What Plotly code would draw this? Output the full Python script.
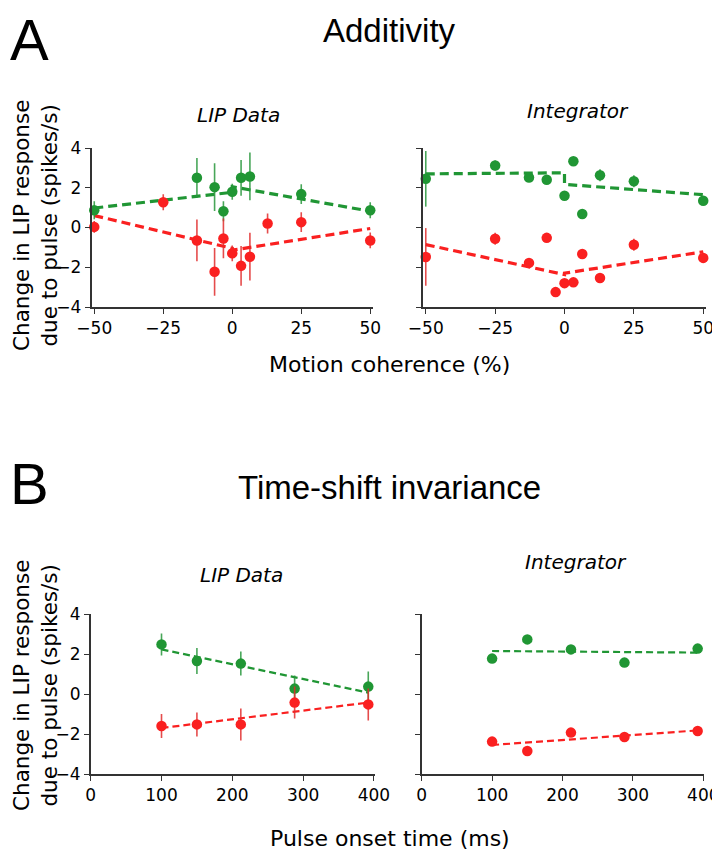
import plotly.graph_objects as go

# page is 720x853; the browser adds an 8px body margin, so the figure is 712x845
PAGE_W, PAGE_H = 720, 853
OFF = 8
W, H = PAGE_W - OFF, PAGE_H - OFF

# ---------------- Data ----------------
# Panel A: Additivity (motion coherence %)
coh_lip_green = [-50, -12.8, -6.4, -3.2, 0, 3.2, 6.4, 25, 50]
lip_green = [0.87, 2.5, 2.03, 0.82, 1.8, 2.5, 2.57, 1.68, 0.87]
lip_green_err = [0.45, 1.0, 1.2, 0.5, 0.4, 0.9, 1.2, 0.5, 0.4]

coh_lip_red = [-50, -25, -12.8, -6.4, -3.2, 0, 3.2, 6.4, 12.8, 25, 50]
lip_red = [0.03, 1.27, -0.65, -2.23, -0.55, -1.3, -1.93, -1.47, 0.2, 0.27, -0.65]
lip_red_err = [0.3, 0.4, 1.05, 1.2, 1.0, 0.4, 1.0, 1.2, 0.5, 0.5, 0.4]

coh_int_green = [-50, -25, -12.8, -6.4, 0, 3.2, 6.4, 12.8, 25, 50]
int_green = [2.45, 3.12, 2.52, 2.4, 1.6, 3.33, 0.68, 2.63, 2.33, 1.35]
int_green_err = [1.4, 0.25, 0.2, 0.2, 0.0, 0.0, 0.0, 0.3, 0.3, 0.0]

coh_int_red = [-50, -25, -12.8, -6.4, -3.2, 0, 3.2, 6.4, 12.8, 25, 50]
int_red = [-1.48, -0.57, -1.78, -0.52, -3.25, -2.8, -2.76, -1.33, -2.54, -0.87, -1.53]
int_red_err = [1.45, 0.3, 0.0, 0.0, 0.0, 0.0, 0.0, 0.0, 0.0, 0.3, 0.0]

# fitted (dashed) lines, panel A : negative and positive coherence segments
fit_coh = [-50, 0, 0, 50]
fit_lip_green = [0.98, 1.77, 2.05, 0.82]
fit_lip_red = [0.6, -1.05, -1.14, -0.05]
fit_int_green = [2.7, 2.75, 2.17, 1.65]
fit_int_red = [-0.86, -2.37, -2.3, -1.22]

# Panel B: Time-shift invariance (pulse onset time, ms)
onset = [100, 150, 212, 288, 392]
tlip_green = [2.48, 1.65, 1.52, 0.27, 0.37]
tlip_green_err = [0.55, 0.65, 0.6, 0.65, 0.75]
tlip_red = [-1.6, -1.52, -1.52, -0.43, -0.52]
tlip_red_err = [0.6, 0.6, 0.8, 0.8, 0.8]
tint_green = [1.77, 2.73, 2.23, 1.57, 2.27]
tint_red = [-2.38, -2.85, -1.93, -2.15, -1.85]

fit_onset = [100, 392]
fit_tlip_green = [2.23, 0.07]
fit_tlip_red = [-1.7, -0.43]
fit_tint_green = [2.15, 2.07]
fit_tint_red = [-2.55, -1.82]

y_ticks = [-4, -2, 0, 2, 4]
coh_ticks = [-50, -25, 0, 25, 50]
onset_ticks = [0, 100, 200, 300, 400]

# ---------------- Style ----------------
GREEN = "rgb(32,150,52)"
RED = "rgb(250,32,32)"
GREEN_ERR = "rgba(40,150,60,0.85)"
RED_ERR = "rgba(225,45,45,0.85)"
SANS = "DejaVu Sans, Verdana, sans-serif"
HELV = "Liberation Sans, Arial, sans-serif"
AXCOL = "#333333"


def px(x):
    return (x - OFF) / W


def py(y):
    return 1 - (y - OFF) / H


fig = go.Figure()


def add_points(xs, ys, err, color, ecolor, xa, ya):
    e = None
    if err is not None:
        e = dict(type="data", array=err, visible=True, thickness=1.6, width=0, color=ecolor)
    fig.add_trace(go.Scatter(x=xs, y=ys, mode="markers", error_y=e,
                             marker=dict(size=10.5, color=color, line=dict(width=0)),
                             xaxis=xa, yaxis=ya, showlegend=False, cliponaxis=False))


def add_fit(xs, ys, color, width, dash, xa, ya):
    fig.add_trace(go.Scatter(x=xs, y=ys, mode="lines",
                             line=dict(color=color, width=width, dash=dash),
                             xaxis=xa, yaxis=ya, showlegend=False, hoverinfo="skip"))


# Panel A left (LIP data)
add_fit(fit_coh, fit_lip_green, GREEN, 3.2, "9px,5px", "x", "y")
add_fit(fit_coh, fit_lip_red, RED, 3.2, "9px,5px", "x", "y")
add_points(coh_lip_green, lip_green, lip_green_err, GREEN, GREEN_ERR, "x", "y")
add_points(coh_lip_red, lip_red, lip_red_err, RED, RED_ERR, "x", "y")

# Panel A right (Integrator)
add_fit(fit_coh, fit_int_green, GREEN, 3.2, "9px,5px", "x2", "y2")
add_fit(fit_coh, fit_int_red, RED, 3.2, "9px,5px", "x2", "y2")
add_points(coh_int_green, int_green, int_green_err, GREEN, GREEN_ERR, "x2", "y2")
add_points(coh_int_red, int_red, int_red_err, RED, RED_ERR, "x2", "y2")

# Panel B left (LIP data)
add_fit(fit_onset, fit_tlip_green, GREEN, 2.2, "7px,4px", "x3", "y3")
add_fit(fit_onset, fit_tlip_red, RED, 2.2, "7px,4px", "x3", "y3")
add_points(onset, tlip_green, tlip_green_err, GREEN, GREEN_ERR, "x3", "y3")
add_points(onset, tlip_red, tlip_red_err, RED, RED_ERR, "x3", "y3")

# Panel B right (Integrator)
add_fit(fit_onset, fit_tint_green, GREEN, 2.2, "7px,4px", "x4", "y4")
add_fit(fit_onset, fit_tint_red, RED, 2.2, "7px,4px", "x4", "y4")
add_points(onset, tint_green, None, GREEN, GREEN_ERR, "x4", "y4")
add_points(onset, tint_red, None, RED, RED_ERR, "x4", "y4")


def xax(domain, rng, ticks, anchor):
    return dict(domain=domain, range=rng, tickvals=ticks,
                ticktext=[str(t).replace("-", "\u2212") for t in ticks],
                showline=True, linecolor=AXCOL, linewidth=1.6, ticks="outside",
                ticklen=5, tickwidth=1.4, tickcolor=AXCOL, showgrid=False, zeroline=False,
                tickfont=dict(family=SANS, size=17, color="black"), anchor=anchor,
                automargin=False, ticklabeloverflow="allow", fixedrange=True)


def yax(domain, labels, anchor):
    return dict(domain=domain, range=[-4, 4], tickvals=y_ticks,
                ticktext=[str(t).replace("-", "\u2212") for t in y_ticks],
                showticklabels=labels,
                showline=True, linecolor=AXCOL, linewidth=1.6, ticks="outside",
                ticklen=5, tickwidth=1.4, tickcolor=AXCOL, showgrid=False, zeroline=False,
                tickfont=dict(family=SANS, size=17, color="black"), anchor=anchor,
                automargin=False, ticklabeloverflow="allow", fixedrange=True)


yA = [py(307), py(148)]
yB = [py(774), py(614)]

layout = dict(
    template="none",
    width=W, height=H, margin=dict(l=0, r=0, t=0, b=0, autoexpand=False),
    paper_bgcolor="white", plot_bgcolor="white",
    xaxis=xax([px(91.5), px(373)], [-51, 51], coh_ticks, "y"),
    yaxis=yax(yA, True, "x"),
    xaxis2=xax([px(423), px(706)], [-51, 51], coh_ticks, "y2"),
    yaxis2=yax(yA, False, "x2"),
    xaxis3=xax([px(90.7), px(375)], [0, 401.5], onset_ticks, "y3"),
    yaxis3=yax(yB, True, "x3"),
    xaxis4=xax([px(421.7), px(704)], [0, 401], onset_ticks, "y4"),
    yaxis4=yax(yB, False, "x4"),
    showlegend=False,
)
fig.update_layout(**layout)


def ann(text, x, y, size, family=SANS, angle=0, xanchor="center", yanchor="middle", italic=False):
    if italic:
        text = "<i>" + text + "</i>"
    fig.add_annotation(text=text, x=px(x), y=py(y), xref="paper", yref="paper",
                       showarrow=False, xanchor=xanchor, yanchor=yanchor, textangle=angle,
                       font=dict(family=family, size=size, color="black"))


ann("A", 8, 40, 58, family=HELV, xanchor="left")
ann("Additivity", 389, 30, 33, family=HELV)
ann("LIP Data", 238, 115, 20, italic=True)
ann("Integrator", 578, 111, 20, italic=True)
ann("Motion coherence (%)", 389, 364, 22)
ann("Change in LIP response<br>due to pulse (spikes/s)", 35, 226, 21.5, angle=-90)

ann("B", 8, 484, 58, family=HELV, xanchor="left")
ann("Time-shift invariance", 389, 487, 33, family=HELV)
ann("LIP Data", 241, 575, 20, italic=True)
ann("Integrator", 576, 562, 20, italic=True)
ann("Pulse onset time (ms)", 390, 838, 22)
ann("Change in LIP response<br>due to pulse (spikes/s)", 35, 686, 21.5, angle=-90)

fig.write_html("out.html")
